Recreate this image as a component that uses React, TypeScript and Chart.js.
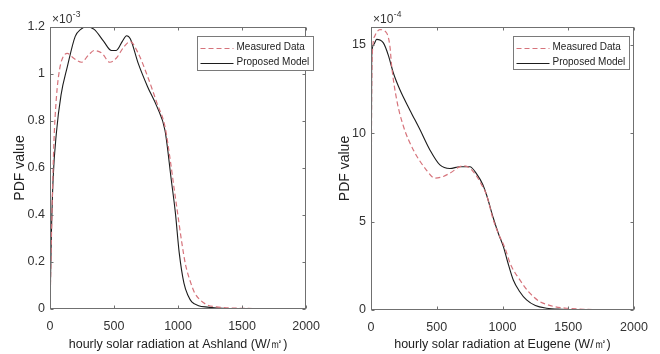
import React, { useEffect, useRef } from "react";
import { Chart, registerables } from "chart.js";
Chart.register(...registerables);

// ---- data ----
const seriesNames = ["Measured Data", "Proposed Model"];
const xTicks = [0, 500, 1000, 1500, 2000];
const ashlandYTicks = [0, 0.2, 0.4, 0.6, 0.8, 1, 1.2];
const eugeneYTicks = [0, 5, 10, 15];
const ashlandExponent = "-3";
const eugeneExponent = "-4";
const ashlandTitle = "hourly solar radiation at Ashland (W/㎡)";
const eugeneTitle = "hourly solar radiation at Eugene (W/㎡)";
const yTitle = "PDF value";

// Ashland (values in units of 1e-3)
const ashlandMeasuredX = [0, 15, 30, 50, 75, 100, 135, 185, 246, 300, 345, 406, 467, 517, 578, 627, 689, 762, 836, 898, 940, 970, 996, 1030, 1058, 1100, 1131, 1180, 1230, 1300, 1378, 1500, 1650, 1770];
const ashlandMeasuredY = [0, 0.4, 0.7, 0.9, 1.02, 1.07, 1.088, 1.067, 1.05, 1.08, 1.1, 1.088, 1.05, 1.067, 1.116, 1.138, 1.088, 0.99, 0.875, 0.776, 0.63, 0.51, 0.41, 0.28, 0.19, 0.11, 0.067, 0.035, 0.017, 0.009, 0.005, 0.003, 0.002, 0.002];
const ashlandModelX = [0, 10, 24, 50, 86, 135, 197, 240, 283, 345, 418, 480, 517, 566, 598, 627, 689, 762, 836, 898, 947, 979, 1009, 1046, 1080, 1107, 1160, 1230, 1350, 1500, 1750];
const ashlandModelY = [0, 0.3, 0.55, 0.75, 0.91, 1.03, 1.16, 1.19, 1.2, 1.19, 1.14, 1.1, 1.1, 1.14, 1.163, 1.15, 1.045, 0.946, 0.86, 0.76, 0.55, 0.41, 0.24, 0.11, 0.055, 0.03, 0.014, 0.008, 0.003, 0.001, 0];

// Eugene (values in units of 1e-4)
const eugeneMeasuredX = [0, 5, 15, 30, 68, 119, 144, 157, 195, 246, 322, 423, 486, 550, 600, 701, 752, 800, 840, 879, 930, 970, 1019, 1060, 1132, 1208, 1284, 1335, 1400, 1487, 1614, 1750, 1850];
const eugeneMeasuredY = [0, 12, 15, 15.5, 15.85, 15.66, 14.9, 13.8, 11.9, 10.4, 9.05, 7.9, 7.45, 7.55, 7.74, 8.15, 8.02, 7.6, 7.1, 6.5, 5.1, 4.3, 3.5, 2.6, 1.7, 0.95, 0.47, 0.32, 0.18, 0.1, 0.04, 0.02, 0.01];
const eugeneModelX = [0, 5, 20, 43, 94, 132, 170, 220, 296, 372, 448, 524, 600, 676, 752, 803, 850, 879, 930, 970, 1006, 1040, 1082, 1130, 1183, 1250, 1335, 1450, 1600, 1870];
const eugeneModelY = [0, 14.3, 15.0, 15.3, 15.1, 14.4, 13.4, 12.45, 11.3, 10.2, 9.05, 8.2, 8.0, 8.1, 8.1, 7.7, 7.1, 6.5, 5.2, 4.3, 3.6, 2.7, 1.7, 1.05, 0.57, 0.25, 0.1, 0.04, 0.015, 0];

const FONT = "'Liberation Sans', Arial, sans-serif";
const RED = "#d6737b";
const BLACK = "#1c1c1c";
const AXIS = "#707070";

const zip = (xs: number[], ys: number[]) => xs.map((x, i) => ({ x, y: ys[i] }));

const framePlugin = {
  id: "frame",
  afterDatasetsDraw(chart: any, _args: any, opts: any) {
    const { ctx, chartArea: a, scales } = chart;
    const L = Math.round(a.left) + 0.5;
    const R = Math.round(a.right) - 0.5;
    const T = Math.round(a.top) + 0.5;
    const B = Math.round(a.bottom) - 0.5;
    ctx.save();
    ctx.strokeStyle = AXIS;
    ctx.lineWidth = 1;
    ctx.strokeRect(L, T, R - L, B - T);
    const tl = 3;
    ctx.beginPath();
    scales.x.ticks.forEach((t: any) => {
      const px = Math.round(scales.x.getPixelForValue(t.value)) + 0.5;
      ctx.moveTo(px, B);
      ctx.lineTo(px, B - tl);
      ctx.moveTo(px, T);
      ctx.lineTo(px, T + tl);
    });
    scales.y.ticks.forEach((t: any) => {
      const py = Math.round(scales.y.getPixelForValue(t.value)) + 0.5;
      ctx.moveTo(L, py);
      ctx.lineTo(L + tl, py);
      ctx.moveTo(R, py);
      ctx.lineTo(R - tl, py);
    });
    ctx.stroke();

    // exponent label
    ctx.fillStyle = "#333";
    ctx.textBaseline = "alphabetic";
    ctx.textAlign = "left";
    ctx.font = `12px ${FONT}`;
    const base = "×10";
    const ex = a.left + 2;
    ctx.fillText(base, ex, 23);
    const w = ctx.measureText(base).width;
    ctx.font = `8.5px ${FONT}`;
    ctx.fillText(opts.exponent, ex + w + 0.5, 17);

    // legend
    const lx = opts.legendX + 0.5;
    const ly = opts.legendY + 0.5;
    const lw = opts.legendW;
    const lh = opts.legendH;
    ctx.fillStyle = "#fff";
    ctx.fillRect(lx, ly, lw, lh);
    ctx.strokeStyle = "#7a7a7a";
    ctx.strokeRect(lx, ly, lw, lh);
    const rows = [
      { y: ly + 11, color: RED, dash: [5, 3] },
      { y: ly + 26, color: BLACK, dash: [] },
    ];
    rows.forEach((r, i) => {
      ctx.beginPath();
      ctx.setLineDash(r.dash);
      ctx.strokeStyle = r.color;
      ctx.moveTo(lx + 3, Math.round(r.y) + 0.5);
      ctx.lineTo(lx + 36, Math.round(r.y) + 0.5);
      ctx.stroke();
      ctx.setLineDash([]);
      ctx.fillStyle = "#222";
      ctx.font = `10px ${FONT}`;
      ctx.textBaseline = "middle";
      ctx.fillText(seriesNames[i], lx + 39, r.y);
    });
    ctx.restore();
  },
};

type Cfg = {
  measured: { x: number; y: number }[];
  model: { x: number; y: number }[];
  yTicks: number[];
  yMax: number;
  title: string;
  exponent: string;
  yAxisWidth: number;
  xAxisHeight: number;
  padRight: number;
  yTitlePad: number;
  legendX: number;
  legendY: number;
  legendH: number;
};

function makeConfig(c: Cfg): any {
  return {
    type: "line",
    data: {
      datasets: [
        {
          label: seriesNames[0],
          data: c.measured,
          borderColor: RED,
          borderWidth: 1.2,
          borderDash: [5, 3],
          pointRadius: 0,
          cubicInterpolationMode: "monotone",
          fill: false,
        },
        {
          label: seriesNames[1],
          data: c.model,
          borderColor: BLACK,
          borderWidth: 1.1,
          pointRadius: 0,
          cubicInterpolationMode: "monotone",
          fill: false,
        },
      ],
    },
    options: {
      animation: false,
      responsive: false,
      maintainAspectRatio: false,
      layout: { padding: { top: 27, right: c.padRight, left: 0, bottom: 0 } },
      plugins: {
        legend: { display: false },
        tooltip: { enabled: false },
        frame: {
          exponent: c.exponent,
          legendX: c.legendX,
          legendY: c.legendY,
          legendW: 116,
          legendH: c.legendH,
        },
      },
      scales: {
        x: {
          type: "linear",
          min: 0,
          max: 2000,
          afterBuildTicks: (s: any) => {
            s.ticks = xTicks.map((v) => ({ value: v }));
          },
          afterFit: (s: any) => {
            s.height = c.xAxisHeight;
          },
          grid: { display: false, drawTicks: false },
          border: { display: false },
          ticks: {
            padding: 10,
            maxRotation: 0,
            autoSkip: false,
            color: "#333",
            font: { family: FONT, size: 12.5 },
            callback: (v: any) => String(v),
          },
          title: {
            display: true,
            text: c.title,
            color: "#222",
            font: { family: FONT, size: 12.5 },
            padding: { top: 0, bottom: 1.5 },
          },
        },
        y: {
          type: "linear",
          min: 0,
          max: c.yMax,
          afterBuildTicks: (s: any) => {
            s.ticks = c.yTicks.map((v) => ({ value: v }));
          },
          afterFit: (s: any) => {
            s.width = c.yAxisWidth;
          },
          grid: { display: false, drawTicks: false },
          border: { display: false },
          ticks: {
            padding: 5,
            autoSkip: false,
            color: "#333",
            font: { family: FONT, size: 12.5 },
            callback: (v: any) => String(Math.round(v * 10) / 10),
          },
          title: {
            display: true,
            text: yTitle,
            color: "#222",
            font: { family: FONT, size: 14 },
            padding: { top: c.yTitlePad, bottom: 0 },
          },
        },
      },
    },
    plugins: [framePlugin],
  };
}

function Panel({ cfg, left }: { cfg: Cfg; left: number }) {
  const ref = useRef<HTMLCanvasElement | null>(null);
  useEffect(() => {
    if (!ref.current) return;
    const chart = new Chart(ref.current, makeConfig(cfg));
    return () => chart.destroy();
  }, []);
  return (
    <canvas
      ref={ref}
      width={330}
      height={354}
      style={{ position: "absolute", left, top: 0, width: 330, height: 354, display: "block" }}
    />
  );
}

export default function App() {
  const ashland: Cfg = {
    measured: zip(ashlandMeasuredX, ashlandMeasuredY),
    model: zip(ashlandModelX, ashlandModelY),
    yTicks: ashlandYTicks,
    yMax: 1.2,
    title: ashlandTitle,
    exponent: ashlandExponent,
    yAxisWidth: 50,
    xAxisHeight: 45,
    padRight: 9,
    yTitlePad: 12,
    legendX: 197,
    legendY: 36,
    legendH: 34,
  };
  const eugene: Cfg = {
    measured: zip(eugeneMeasuredX, eugeneMeasuredY),
    model: zip(eugeneModelX, eugeneModelY),
    yTicks: eugeneYTicks,
    yMax: 16,
    title: eugeneTitle,
    exponent: eugeneExponent,
    yAxisWidth: 41,
    xAxisHeight: 44,
    padRight: 26,
    yTitlePad: 7,
    legendX: 183,
    legendY: 36,
    legendH: 33,
  };
  return (
    <div style={{ position: "absolute", left: 0, top: 0, width: 660, height: 354, background: "#fff" }}>
      <Panel cfg={ashland} left={0} />
      <Panel cfg={eugene} left={330} />
    </div>
  );
}
